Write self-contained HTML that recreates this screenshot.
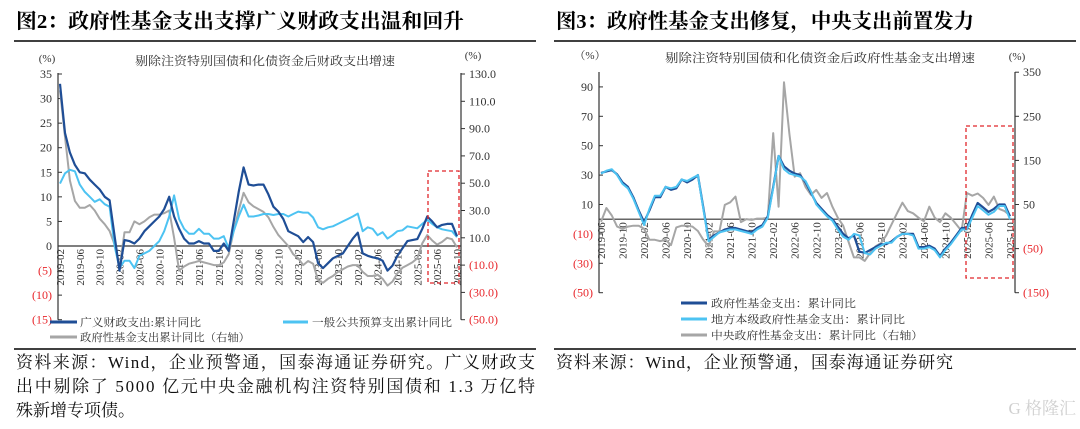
<!DOCTYPE html>
<html><head><meta charset="utf-8">
<style>
body{margin:0;width:1080px;height:424px;background:#fff;overflow:hidden;font-family:"Liberation Serif","Noto Serif CJK SC",serif;}
svg text{font-family:"Liberation Serif","Noto Serif CJK SC",serif;}
</style></head>
<body>
<svg id="root" width="1080" height="424" viewBox="0 0 1080 424" xmlns="http://www.w3.org/2000/svg">
<g>
 <text x="16" y="28" font-size="20.5" font-weight="bold" textLength="448" lengthAdjust="spacingAndGlyphs">图2：政府性基金支出支撑广义财政支出温和回升</text>
 <line x1="14" y1="41" x2="536" y2="41" stroke="#000" stroke-width="1.5"/>
 <text x="135" y="65" font-size="12" fill="#333" textLength="260" lengthAdjust="spacingAndGlyphs">剔除注资特别国债和化债资金后财政支出增速</text>
 <text x="47" y="62" font-size="11" text-anchor="middle" fill="#333">(%)</text>
 <text x="473" y="59" font-size="11" text-anchor="middle" fill="#333">(%)</text>
 <g id="leftChart"></g>
 <g>
  <line x1="50" y1="322" x2="77" y2="322" stroke="#1f4e96" stroke-width="3"/>
  <text x="80" y="326" font-size="11" fill="#333" textLength="121" lengthAdjust="spacingAndGlyphs">广义财政支出:累计同比</text>
  <line x1="283" y1="322" x2="308" y2="322" stroke="#4dc3f2" stroke-width="3"/>
  <text x="312" y="326" font-size="11" fill="#333" textLength="140" lengthAdjust="spacingAndGlyphs">一般公共预算支出累计同比</text>
  <line x1="50" y1="337" x2="77" y2="337" stroke="#a6a6a6" stroke-width="3"/>
  <text x="80" y="341" font-size="11" fill="#333" textLength="170" lengthAdjust="spacingAndGlyphs">政府性基金支出累计同比（右轴）</text>
 </g>
 <line x1="14" y1="349" x2="536" y2="349" stroke="#000" stroke-width="1.5"/>
 <text font-size="17" fill="#111">
  <tspan x="16" y="368" textLength="519" lengthAdjust="spacing">资料来源：Wind，企业预警通，国泰海通证券研究。广义财政支</tspan>
  <tspan x="16" y="392" textLength="519" lengthAdjust="spacing">出中剔除了 5000 亿元中央金融机构注资特别国债和 1.3 万亿特</tspan>
  <tspan x="16" y="416">殊新增专项债。</tspan>
 </text>
</g>
<g>
 <text x="556" y="28" font-size="20.5" font-weight="bold" textLength="418" lengthAdjust="spacingAndGlyphs">图3：政府性基金支出修复，中央支出前置发力</text>
 <line x1="554" y1="41" x2="1076" y2="41" stroke="#000" stroke-width="1.5"/>
 <text x="665" y="62" font-size="12" fill="#333" textLength="310" lengthAdjust="spacingAndGlyphs">剔除注资特别国债和化债资金后政府性基金支出增速</text>
 <text x="590" y="59" font-size="11" text-anchor="middle" fill="#333">（%）</text>
 <text x="1017" y="60" font-size="11" text-anchor="middle" fill="#333">(%)</text>
 <g id="rightChart"></g>
 <g>
  <line x1="681" y1="303" x2="707" y2="303" stroke="#1f4e96" stroke-width="3"/>
  <text x="711" y="307" font-size="11" fill="#333" textLength="145" lengthAdjust="spacingAndGlyphs">政府性基金支出：累计同比</text>
  <line x1="681" y1="319" x2="707" y2="319" stroke="#4dc3f2" stroke-width="3"/>
  <text x="711" y="323" font-size="11" fill="#333" textLength="194" lengthAdjust="spacingAndGlyphs">地方本级政府性基金支出：累计同比</text>
  <line x1="681" y1="335" x2="707" y2="335" stroke="#a6a6a6" stroke-width="3"/>
  <text x="711" y="339" font-size="11" fill="#333" textLength="212" lengthAdjust="spacingAndGlyphs">中央政府性基金支出：累计同比（右轴）</text>
 </g>
 <line x1="554" y1="349" x2="1076" y2="349" stroke="#000" stroke-width="1.5"/>
 <text x="556" y="368" font-size="17" fill="#111" textLength="397" lengthAdjust="spacing">资料来源：Wind，企业预警通，国泰海通证券研究</text>
 <text x="1076" y="414" font-size="17" text-anchor="end" fill="#d0d0d0" font-family="Liberation Sans, Noto Sans CJK SC, sans-serif">G 格隆汇</text>
</g>
</svg>
<script>
// ---------- Left chart data ----------
const leftBroad = [33,23,19,16.5,15,14.8,13.5,12.5,11.5,10,9.3,
 2,-5,1.2,1,0.5,1.5,3,4,5,6,7.5,10,
 6,3.5,1.5,0.5,0.5,1,0.5,0.5,-1,-1,0.5,-1,
 5,11,16,12.5,12.3,12.5,12.5,10.5,8,7,5.5,3,
 2.5,2,0.8,1.8,0.8,-3.5,-4.5,-3.5,-2.5,-2,-1.5,0,
 1.5,2.7,-1.5,-2,-2.3,-2.5,-3,-5,-4,-2,-0.5,1,
 1.2,1.4,3.5,6,5,3.8,4.3,4.5,4.5,2];
const leftBudget = [12.7,14.8,15.5,15.2,12.5,11,10,9,9.5,8.5,8,
 0,-4.5,-3,-3,-4.5,-2,-1.5,-1,0,1,3,6,
 10.3,5.5,3.5,2.5,2.5,3.5,2.5,2.5,1.5,1.5,2,-0.5,
 3,6,8.4,6,6,6.2,6.5,6.5,6.3,6.5,6.5,6,
 6.5,7,6.8,6.8,5.8,3.8,3.4,3.8,4,4.5,5,5.5,
 6,6.6,3,3.8,3.5,2.2,2.8,1.5,2.2,3,3.2,4,
 3.8,3.6,4.5,5.3,4.5,3.8,3.4,3.2,3,1.8];
const leftFund = [118,84,52,37,32,32,34,30,24,20,15,
 5,-12,14,14,22,20,22,25,27,27,28,30,
 10,-14,-11,-9,-8,-7,-8,-9,-10,-10,-8,-2,
 15,30,43,36,33,31,29,25,18,12,8,4,
 -2,-5,-10,-7,-9,-21,-23,-20,-18,-15,-13,-11,
 -10,-10,-15,-18,-18,-17,-20,-25,-22,-16,-12,-10,
 -8,-5,6,12,8,5,7,10,9,3];
const leftXLabels = ["2019-02","2019-06","2019-10","2020-02","2020-06","2020-10","2021-02","2021-06","2021-10","2022-02","2022-06","2022-10","2023-02","2023-06","2023-10","2024-02","2024-06","2024-10","2025-02","2025-06","2025-10"];
const leftYTicks = [35,30,25,20,15,10,5,0,-5,-10,-15];
const leftY2Ticks = [130,110,90,70,50,30,10,-10,-30,-50];

// ---------- Right chart data ----------
const rightTotal = [31.5,32.5,33.5,30.5,25,22,15,
 6,-2,6,15,15,22,20,21,27,25,27,30,
 8,-14,-11,-9,-7,-6,-6,-7,-8,-9,-6,-4,
 2,22,43,36,33,31,30,25,18,11,7,3,
 0,-5,-10,-13,-11,-22,-23,-21,-19,-17,-17,-15,
 -12,-10,-10,-10,-19,-19,-18,-20,-25,-20,-16,-11,
 -6,-6,3,11,8,5,7,10,10,2];
const rightLocal = [31,33,34,30,24,21,14,
 5,-4,7,16,16,22,21,22,27,26,28,30,
 7,-15,-12,-9,-8,-7,-7,-8,-9,-10,-7,-5,
 1,21,43,34,31,30,29,26,19,10,6,2,
 -1,-7,-12,-14,-10,-11,-23,-24,-20,-18,-16,-16,
 -12,-10,-10,-11,-20,-20,-19,-21,-26,-21,-17,-12,
 -7,-7,1,9,6,3,5,9,9,0];
const rightCentral = [11,42,25,0,-5,0,2,
 2,-5,-30,-30,-33,-30,-42,-2,2,2,0,-10,
 -30,-45,-11,-11,49,55,68,10,17,15,18,18,
 20,212,45,327,210,113,121,90,72,83,65,76,
 45,20,2,-35,-70,-70,-78,-60,-45,-38,-20,5,
 30,54,35,30,20,12,45,20,10,30,20,5,
 -10,76,70,75,65,49,68,40,35,25];
const rightXLabels = ["2019-06","2019-10","2020-02","2020-06","2020-10","2021-02","2021-06","2021-10","2022-02","2022-06","2022-10","2023-02","2023-06","2023-10","2024-02","2024-06","2024-10","2025-02","2025-06","2025-10"];
const rightYTicks = [90,70,50,30,10,-10,-30,-50];
const rightY2Ticks = [350,250,150,50,-50,-150];

const NS = "http://www.w3.org/2000/svg";
function mk(parent, tag, attrs){const e=document.createElementNS(NS,tag);for(const k in attrs)e.setAttribute(k,attrs[k]);parent.appendChild(e);return e;}
function fmt(v,dec){const s=Math.abs(v).toFixed(dec);return v<0?"("+s+")":s;}

function drawChart(g, cfg){
  const n = cfg.series[0].data.length;
  const xS = i => cfg.x0 + (cfg.x1-cfg.x0)*i/(n-1);
  const yS = v => cfg.yTop + (cfg.yMax - v)/(cfg.yMax-cfg.yMin)*(cfg.yBot-cfg.yTop);
  const y2S = v => cfg.yTop + (cfg.y2Max - v)/(cfg.y2Max-cfg.y2Min)*(cfg.yBot-cfg.yTop);
  const ax = mk(g,'line',{x1:cfg.ax1,y1:cfg.axTop,x2:cfg.ax1,y2:cfg.yBot,stroke:'#333','stroke-width':1.2});
  
  
  const ax2 = mk(g,'line',{x1:cfg.ax2,y1:cfg.axTop,x2:cfg.ax2,y2:cfg.yBot,stroke:'#333','stroke-width':1.2});
  
  
  cfg.yTicks.forEach(v=>{
    const y=yS(v);
    mk(g,'line',{x1:cfg.ax1,y1:y,x2:cfg.ax1+4,y2:y,stroke:'#333'});
    const t=mk(g,'text',{x:cfg.ax1-6,y:y+4,'font-size':12,'text-anchor':'end',fill:v<0?'#e8262b':'#333'});
    
    
    t.textContent=fmt(v,0);
  });
  cfg.y2Ticks.forEach(v=>{
    const y=y2S(v);
    mk(g,'line',{x1:cfg.ax2,y1:y,x2:cfg.ax2+4,y2:y,stroke:'#333'});
    const t=mk(g,'text',{x:cfg.ax2+8,y:y+4,'font-size':12,'text-anchor':'start',fill:v<0?'#e8262b':'#333'});
    
    
    t.textContent=fmt(v,cfg.y2Dec);
  });
  const z=yS(0);
  const zl=mk(g,'line',{x1:cfg.ax1,y1:z,x2:cfg.ax2,y2:z,stroke:'#333','stroke-width':1.2});
  
  
  cfg.xLabels.forEach((lab,k)=>{
    const x=xS(k*4);
    const t=mk(g,'text',{x:0,y:0,'font-size':11,'text-anchor':'end',fill:'#333',transform:`translate(${x+4},${z+3}) rotate(-90)`});
    
    
    t.textContent=lab;
  });
  cfg.series.forEach(s=>{
    const sc = s.right ? y2S : yS;
    const pts = s.data.map((v,i)=>xS(i).toFixed(1)+','+sc(v).toFixed(1)).join(' ');
    const p=mk(g,'polyline',{points:pts,fill:'none',stroke:s.color,'stroke-width':s.w,'stroke-linejoin':'round'});
    
    
  });
  const b=cfg.box;
  const r=mk(g,'rect',{x:b[0],y:b[1],width:b[2]-b[0],height:b[3]-b[1],fill:'none',stroke:'#e0262b','stroke-width':1.3,'stroke-dasharray':'4,3'});
  
  
}

drawChart(document.getElementById('leftChart'),{
  x0:60,x1:457,ax1:58,ax2:461,axTop:73,yTop:74,yBot:319.7,yMax:35,yMin:-15,y2Max:130,y2Min:-50,y2Dec:1,
  yTicks:leftYTicks,y2Ticks:leftY2Ticks,xLabels:leftXLabels,box:[428,171,459,283],
  series:[
    {name:'fund-spending-line',data:leftFund,right:true,color:'#a6a6a6',w:2},
    {name:'budget-spending-line',data:leftBudget,color:'#4dc3f2',w:2},
    {name:'broad-fiscal-line',data:leftBroad,color:'#1f4e96',w:2.2}
  ]});
drawChart(document.getElementById('rightChart'),{
  x0:601,x1:1010,ax1:599,ax2:1015,axTop:72,yTop:72.2,yBot:292.7,yMax:100,yMin:-50,y2Max:350,y2Min:-150,y2Dec:0,
  yTicks:rightYTicks,y2Ticks:rightY2Ticks,xLabels:rightXLabels,box:[966,126,1013,278],
  series:[
    {name:'central-fund-line',data:rightCentral,right:true,color:'#a6a6a6',w:2},
    {name:'total-fund-line',data:rightTotal,color:'#1f4e96',w:2.2},
    {name:'local-fund-line',data:rightLocal,color:'#4dc3f2',w:2}
  ]});
</script>
</body></html>
